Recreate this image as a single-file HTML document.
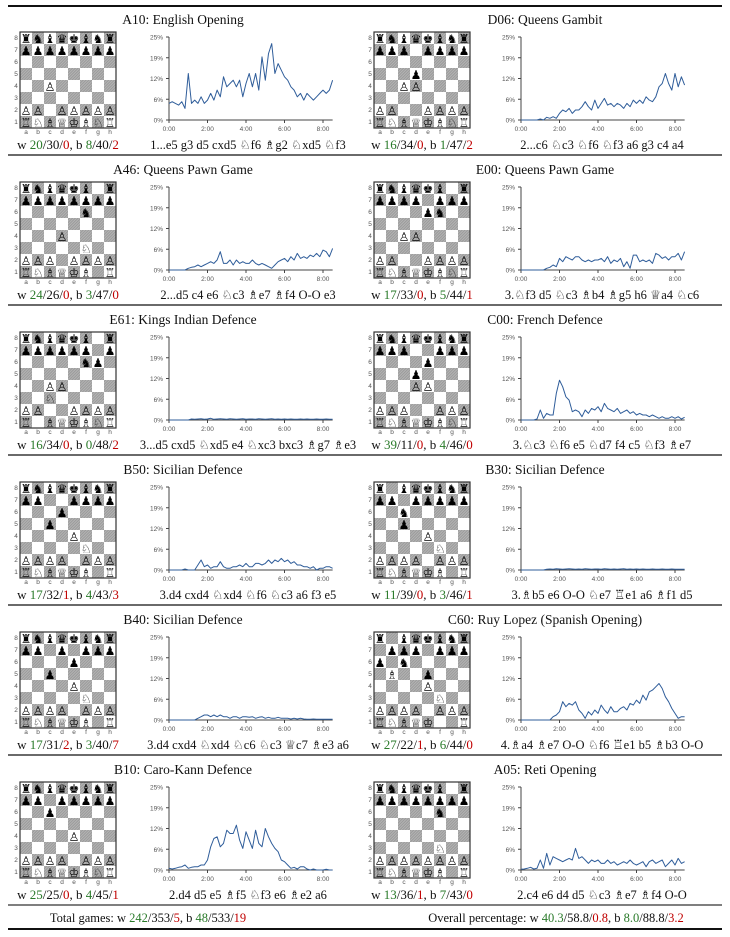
<!DOCTYPE html>
<html><head><meta charset="utf-8">
<style>
html,body{margin:0;padding:0;background:#fff;}
svg{display:block;}
text{font-family:"Liberation Serif","DejaVu Sans",serif;}
.tk{font-family:"Liberation Sans","DejaVu Sans",sans-serif;font-size:6.5px;fill:#555;}
.pc{font-family:"DejaVu Sans",sans-serif;font-size:12px;}
</style></head>
<body>
<svg id="fig" width="730" height="937" viewBox="0 0 730 937" xmlns="http://www.w3.org/2000/svg">
<defs>
<pattern id="hatch" width="2" height="2" patternUnits="userSpaceOnUse" patternTransform="rotate(45)">
<rect width="2" height="2" fill="#9a9a9a"/><rect width="1" height="2" fill="#b4b4b4"/>
</pattern>
</defs>
</svg>
<script>
// ---- data ----
const titles = ["A10: English Opening","D06: Queens Gambit","A46: Queens Pawn Game","E00: Queens Pawn Game","E61: Kings Indian Defence","C00: French Defence","B50: Sicilian Defence","B30: Sicilian Defence","B40: Sicilian Defence","C60: Ruy Lopez (Spanish Opening)","B10: Caro-Kann Defence","A05: Reti Opening"];
const fens = ["rnbqkbnr/pppppppp/8/8/2P5/8/PP1PPPPP/RNBQKBNR","rnbqkbnr/ppp1pppp/8/3p4/2PP4/8/PP2PPPP/RNBQKBNR","rnbqkb1r/pppppppp/5n2/8/3P4/5N2/PPP1PPPP/RNBQKB1R","rnbqkb1r/pppp1ppp/4pn2/8/2PP4/8/PP2PPPP/RNBQKBNR","rnbqkb1r/pppppp1p/5np1/8/2PP4/2N5/PP2PPPP/R1BQKBNR","rnbqkbnr/ppp2ppp/4p3/3p4/3PP3/8/PPP2PPP/RNBQKBNR","rnbqkbnr/pp2pppp/3p4/2p5/4P3/5N2/PPPP1PPP/RNBQKB1R","r1bqkbnr/pp1ppppp/2n5/2p5/4P3/5N2/PPPP1PPP/RNBQKB1R","rnbqkbnr/pp1p1ppp/4p3/2p5/4P3/5N2/PPPP1PPP/RNBQKB1R","r1bqkbnr/1ppp1ppp/p1n5/1B2p3/4P3/5N2/PPPP1PPP/RNBQK2R","rnbqkbnr/pp1ppppp/2p5/8/4P3/8/PPPP1PPP/RNBQKBNR","rnbqkb1r/pppppppp/5n2/8/8/5N2/PPPPPPPP/RNBQKB1R"];
const scoresW = [[20,30,0],[16,34,0],[24,26,0],[17,33,0],[16,34,0],[39,11,0],[17,32,1],[11,39,0],[17,31,2],[27,22,1],[25,25,0],[13,36,1]];
const scoresB = [[8,40,2],[1,47,2],[3,47,0],[5,44,1],[0,48,2],[4,46,0],[4,43,3],[3,46,1],[3,40,7],[6,44,0],[4,45,1],[7,43,0]];
const moves = ["1...e5 g3 d5 cxd5 ♘f6 ♗g2 ♘xd5 ♘f3","2...c6 ♘c3 ♘f6 ♘f3 a6 g3 c4 a4","2...d5 c4 e6 ♘c3 ♗e7 ♗f4 O-O e3","3.♘f3 d5 ♘c3 ♗b4 ♗g5 h6 ♕a4 ♘c6","3...d5 cxd5 ♘xd5 e4 ♘xc3 bxc3 ♗g7 ♗e3","3.♘c3 ♘f6 e5 ♘d7 f4 c5 ♘f3 ♗e7","3.d4 cxd4 ♘xd4 ♘f6 ♘c3 a6 f3 e5","3.♗b5 e6 O-O ♘e7 ♖e1 a6 ♗f1 d5","3.d4 cxd4 ♘xd4 ♘c6 ♘c3 ♕c7 ♗e3 a6","4.♗a4 ♗e7 O-O ♘f6 ♖e1 b5 ♗b3 O-O","2.d4 d5 e5 ♗f5 ♘f3 e6 ♗e2 a6","2.c4 e6 d4 d5 ♘c3 ♗e7 ♗f4 O-O"];
const stepHours = 1/6;
const yTickValues = [0,6.25,12.5,18.75,25];
const yTickLabels = ["0%","6%","12%","19%","25%"];
const xTickValues = [0,2,4,6,8];
const xTickLabels = ["0:00","2:00","4:00","6:00","8:00"];
const sA10 = [5,5.5,5,4.5,5.5,3.5,14,5,6,5,7,5,6,8,6,9,7,13,10,11,12,10,12,7,11,14,10,14,9,19,12,20,23,14,17,15,13,12,10,9,7,8,6,8,7,6,7,8,9,8,9,12];
const sD06 = [0,0,0,0,0,0,0.3,0,0.8,0.5,1,0.5,2,3,2.5,3.5,2,3,3,4,5.5,4,3,6,3.5,5,6.5,4.5,5,4,5,4.5,3.5,5,4,6,5,6,5,7,6,5.5,7,10,11,14,11,9,14,10,13,10.5];
const sA46 = [0,0,0,0,0,0,0.5,0.8,1,1.5,1,1.5,2,2.5,2,3,5.5,2,2,3,1.5,3,2,2.5,2,2,3,2,1.5,2,1.5,1,0.5,1.5,2.5,3,3.5,2.5,4,3,5,3.5,4,3.5,4.5,4,5,4,6,5.5,4,6.5];
const sE00 = [0,0,0,0,0,0,0,0,0.5,0.8,1.5,1,3.5,2.5,4,3.5,3,4,4,3,2.5,3,2.5,3,3,3.5,2.5,4,2,3,2.5,3.5,1,2.5,0.5,4.5,4.5,2.5,3,2.5,3,2,5,4.5,3.5,4,3,4,4,5,3,5.5];
const sE61 = [0,0,0,0,0,0,0,0.3,0.2,0.3,0.4,0.2,0.3,0.5,0.2,0.3,0.4,0.3,0.2,0.4,0.3,0.2,0.3,0.4,0.2,0.3,0.3,0.2,0.4,0.3,0.2,0.3,0.4,0.2,0.3,0.2,0.3,0.2,0.3,0.2,0.2,0.3,0.2,0.3,0.2,0.2,0.3,0.2,0.2,0.3,0.2,0.2];
const sC00 = [0,0,0,0,0,0.3,3,0.5,2,1.5,1.5,8,12,10,7,6,2.5,3,2.5,1,3,2,3.5,3,4,2.5,5,3.5,3,2.5,3.5,2,2.5,3,2,2.5,1.5,2,1.5,1.5,1,1.5,1,0.5,1,0.5,0.5,1,0.5,1,0.3,0.8];
const sB50 = [0,0,0,0,0,0.3,0,0,0,1.5,3,1,1.5,0.5,1,1,2.5,1,0.5,0.5,1,1,1.5,1,2,1,1,2,2,1.5,2,3,2,3,2.5,3.5,2.5,3,2,2.5,1.5,1.5,1,1,0.5,1,0,0.5,0.5,1,1,0.5];
const sB30 = [0,0,0,0,0,0,0,0,0.2,0.3,0.2,0.4,0.3,0.2,0.3,0.4,0.3,0.2,0.3,0.2,0.4,0.3,0.2,0.3,0.3,0.2,0.4,0.3,0.2,0.3,0.2,0.3,0.4,0.2,0.3,0.2,0.3,0.2,0.3,0.2,0.2,0.3,0.2,0.2,0.3,0.2,0.2,0.3,0.2,0.2,0.2,0.2];
const sB40 = [0,0,0,0,0,0,0,0,0,0.5,1,1.5,1.5,1,1.5,1,1.5,1,1,0.5,1,1,0.5,1,1,0.8,1,0.5,0.8,1,0.5,0.8,0.5,0.5,0.8,0.5,0.5,0.5,0.3,0.5,0.3,0.5,0.3,0.2,0.2,0.3,0.2,0.2,0.2,0.2,0.2,0.2];
const sC60 = [0,0,0,0,0,0,0,0,0,0,1,1.5,2.5,5.5,4,5,4.5,5.5,3,2,0.5,2.5,1.5,3,2,4.5,3,2,4,2.5,2.5,3.5,4,3,5,4.5,6,5,7.5,6,8.5,9,10,11,9.5,7,5.5,3.5,2,0.5,1,1];
const sB10 = [0.5,0.3,0.5,0.8,1,1.5,0.5,0.8,1,1,1.5,1.5,3,7,9.5,10,7,8,12,11,11,13.5,9,6.5,11.5,9,6.5,12,8,7,12.5,10,8,6.5,5.5,3,2.5,1.5,0.5,0.8,0.3,1,1,0.3,0,0.3,0,0,0,0.2,0,0];
const sA05 = [0.2,0.3,0.5,0.8,0.3,0.5,3,0.5,5,1.5,4,3.5,3,2.5,3,3.5,3,6.5,3.5,4,3,2,3,2.5,3,2,2,3,2,2.5,1.5,2,2.5,2,3,2,1.5,2,2.5,1,2.5,3,2,2.5,3,1,2,3,1.5,3.5,2,2.5];
const seriesList = [sA10,sD06,sA46,sE00,sE61,sC00,sB50,sB30,sB40,sC60,sB10,sA05];

// ---- drawing ----
const NS="http://www.w3.org/2000/svg";
const svgRoot=document.getElementById('fig');
function mk(tag,attrs,parent){const e=document.createElementNS(NS,tag);for(const k in attrs)e.setAttribute(k,attrs[k]);(parent||svgRoot).appendChild(e);return e;}
const GLY={K:'♔',Q:'♕',R:'♖',B:'♗',N:'♘',P:'♙',k:'♚',q:'♛',r:'♜',b:'♝',n:'♞',p:'♟'};

function scoreText(parent,x,y,w,b){
  const t=mk('text',{x:x,y:y,'text-anchor':'middle','font-size':'13',fill:'#111'},parent);
  const parts=[['w ','#111'],[w[0],'#2a7a2a'],['/'+w[1]+'/','#111'],[w[2],'#c00000'],[', b ','#111'],[b[0],'#2a7a2a'],['/'+b[1]+'/','#111'],[b[2],'#c00000']];
  parts.forEach(p=>{const s=mk('tspan',{fill:p[1]},t);s.textContent=String(p[0]);});
  return t;
}

for(let i=0;i<12;i++){
  const r=Math.floor(i/2), c=i%2, oy=r*150, ox=c*354;
  const g=mk('g',{});
  
  
  const tt=mk('text',{x:183+ox+(c?8:0),y:24+oy,'text-anchor':'middle','font-size':'13.5',fill:'#111'},g);
  tt.textContent=titles[i];
  
  
  const bx=20+ox, by=32+oy, sq=12;
  const bg=mk('g',{},g);
  
  
  const rows=fens[i].split('/');
  for(let rk=0;rk<8;rk++){
    for(let ff=0;ff<8;ff++){
      const dark=((rk+ff)%2)===1;
      mk('rect',{x:bx+ff*sq,y:by+rk*sq,width:sq,height:sq,fill:dark?'url(#hatch)':'#fff'},bg);
    }
    let f=0;
    for(const ch of rows[rk]){
      if(/\d/.test(ch)){f+=+ch;continue;}
      const p=mk('text',{x:bx+f*sq+sq/2,y:by+rk*sq+sq-1.2,'text-anchor':'middle',class:'pc',fill:'#000'},bg);
      p.textContent=GLY[ch];
      f++;
    }
    const rl=mk('text',{x:bx-4,y:by+rk*sq+8,'text-anchor':'middle',class:'tk','font-size':'5'},bg);
    rl.textContent=String(8-rk);
  }
  'abcdefgh'.split('').forEach((L,k)=>{const fl=mk('text',{x:bx+k*sq+sq/2,y:by+8*sq+6,'text-anchor':'middle',class:'tk'},bg);fl.setAttribute('font-size','5');fl.textContent=L;});
  mk('rect',{x:bx,y:by,width:8*sq,height:8*sq,fill:'none',stroke:'#333','stroke-width':'1.2'},bg);
  const st=scoreText(g,68+ox,149+oy,scoresW[i],scoresB[i]);
  
  
  const x0=169+ox+(c?-2:0), y0=120+oy, ph=83, pxh=19.25;
  const xs=v=>x0+v*pxh, ys=v=>y0-v/25*ph;
  const cg=mk('g',{},g);
  
  
  mk('line',{x1:x0,y1:ys(25),x2:x0,y2:y0,stroke:'#444','stroke-width':'1'},cg);
  mk('line',{x1:x0,y1:y0,x2:xs(8.5),y2:y0,stroke:'#444','stroke-width':'1'},cg);
  yTickValues.forEach((v,k)=>{
    mk('line',{x1:x0-3,y1:ys(v),x2:x0,y2:ys(v),stroke:'#444'},cg);
    const lb=mk('text',{x:x0-6,y:ys(v)+2.5,'text-anchor':'end',class:'tk'},cg);
    lb.textContent=yTickLabels[k];
  });
  xTickValues.forEach((v,k)=>{
    mk('line',{x1:xs(v),y1:y0,x2:xs(v),y2:y0+3,stroke:'#444'},cg);
    const lb=mk('text',{x:xs(v),y:y0+11,'text-anchor':'middle',class:'tk'},cg);
    lb.textContent=xTickLabels[k];
  });
  const s=seriesList[i];
  const pts=s.map((v,k)=>xs(k*stepHours).toFixed(1)+','+ys(v).toFixed(1)).join(' ');
  const pl=mk('polyline',{points:pts,fill:'none',stroke:'#2f5d9a','stroke-width':'1','stroke-linejoin':'round'},cg);
  
  
  const mv=mk('text',{x:248+ox,y:149+oy,'text-anchor':'middle','font-size':'12.5',fill:'#111'},g);
  mv.textContent=moves[i];
  
  
  if(r<5){
    const sep=mk('line',{x1:8,y1:155+oy,x2:722,y2:155+oy,stroke:'#555','stroke-width':'1.5'});
    
    
  }
}
const topRule=mk('line',{x1:8,y1:6,x2:722,y2:6,stroke:'#111','stroke-width':'2'});


const midRule=mk('line',{x1:8,y1:905,x2:722,y2:905,stroke:'#555','stroke-width':'1.5'});


const botRule=mk('line',{x1:8,y1:929,x2:722,y2:929,stroke:'#111','stroke-width':'2'});


function colored(x,y,parts,name){
  const t=mk('text',{x:x,y:y,'text-anchor':'middle','font-size':'12.5',fill:'#111'});
  parts.forEach(p=>{const s=mk('tspan',{fill:p[1]},t);s.textContent=p[0];});
  
  
}
const CK='#111',CG='#2a7a2a',CR='#c00000';
colored(148,922,[['Total games: w ',CK],['242',CG],['/353/',CK],['5',CR],[', b ',CK],['48',CG],['/533/',CK],['19',CR]],'total-games');
colored(556,922,[['Overall percentage: w ',CK],['40.3',CG],['/58.8/',CK],['0.8',CR],[', b ',CK],['8.0',CG],['/88.8/',CK],['3.2',CR]],'overall-percentage');
</script>
</body></html>
